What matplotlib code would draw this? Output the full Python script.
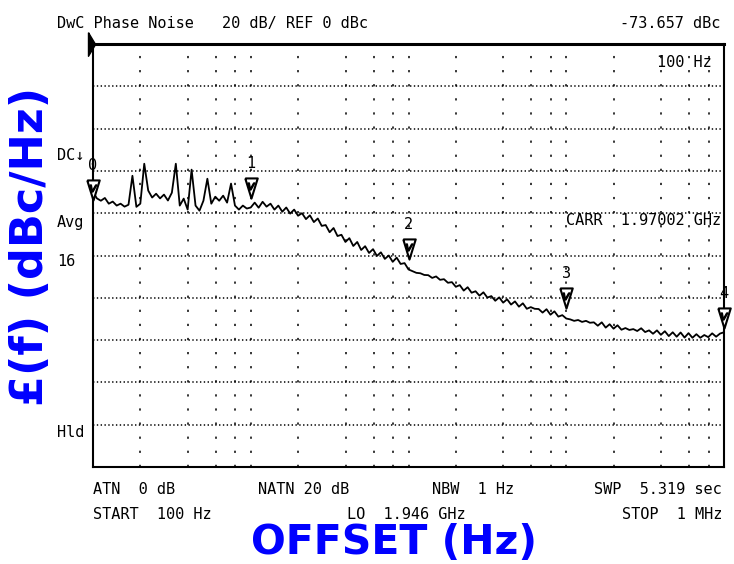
import matplotlib
matplotlib.use('Agg')
import matplotlib.pyplot as plt
from matplotlib.transforms import offset_copy, blended_transform_factory

plt.rcParams['lines.scale_dashes'] = False

# sweep grid of the analyzer: 40 points per decade, 100 Hz .. 1 MHz
sweep_mantissa = [1.000, 1.059, 1.122, 1.189, 1.259, 1.334, 1.413, 1.496, 1.585, 1.679,
                  1.778, 1.884, 1.995, 2.113, 2.239, 2.371, 2.512, 2.661, 2.818, 2.985,
                  3.162, 3.350, 3.548, 3.758, 3.981, 4.217, 4.467, 4.732, 5.012, 5.309,
                  5.623, 5.957, 6.310, 6.683, 7.079, 7.499, 7.943, 8.414, 8.913, 9.441]
decades = [1e2, 1e3, 1e4, 1e5]
stop_freq = 1e6

# phase noise trace, dBc/Hz
noise_100_1k = [-70.0, -73.0, -74.1, -72.8, -75.5, -74.5, -76.4, -75.5, -76.9, -76.0,
                -62.3, -77.0, -75.5, -56.6, -69.3, -72.6, -70.8, -73.0, -71.2, -74.0,
                -70.3, -56.6, -76.4, -73.1, -78.3, -59.4, -76.4, -78.8, -74.1, -63.7,
                -75.5, -72.2, -74.1, -71.7, -75.0, -66.0, -76.4, -78.3, -76.4, -77.8]
noise_1k_10k = [-77.3, -75.0, -77.4, -74.6, -76.9, -75.5, -78.3, -76.4, -79.3, -77.3,
                -80.2, -78.3, -81.2, -80.0, -82.8, -81.0, -84.2, -82.5, -86.0, -85.6,
                -89.0, -87.0, -90.8, -90.2, -93.6, -91.8, -95.5, -93.6, -97.4, -95.6,
                -98.8, -97.0, -100.2, -98.5, -101.6, -100.0, -103.0, -101.0, -104.0, -103.6]
noise_10k_100k = [-106.6, -107.4, -108.2, -108.4, -109.2, -109.3, -110.6, -109.9, -111.5, -111.2,
                  -112.9, -112.6, -114.8, -114.0, -116.6, -115.0, -117.6, -116.9, -119.0, -117.4,
                  -119.9, -119.2, -121.4, -119.8, -122.3, -120.7, -123.2, -121.7, -124.2, -122.6,
                  -125.2, -124.4, -125.2, -125.3, -127.0, -125.4, -128.0, -126.4, -128.9, -128.2]
noise_100k_1M = [-129.8, -130.2, -130.9, -130.5, -131.4, -130.9, -131.8, -131.6, -133.2, -131.6,
                 -134.1, -132.5, -134.6, -133.0, -135.1, -134.3, -135.2, -134.8, -135.7, -134.4,
                 -136.2, -135.4, -137.0, -135.4, -137.5, -135.8, -138.1, -136.3, -138.4, -136.4,
                 -138.8, -136.7, -138.9, -137.2, -138.9, -137.6, -138.6, -136.8, -138.4, -136.9,
                 -136.3]

# markers 0..4
marker_ids = ['0', '1', '2', '3', '4']
marker_freqs = [1e2, 1e3, 1e4, 1e5, 1e6]
marker_dbc = [-73.7, -72.6, -101.4, -124.5, -134.0]

grid_steps = [2, 4, 6, 8, 10]
ref_level = 0
db_per_div = 20
n_div = 10

freqs = [m * d for d in decades for m in sweep_mantissa] + [stop_freq]
trace = noise_100_1k + noise_1k_10k + noise_10k_100k + noise_100k_1M

W, H = 734, 564
fig = plt.figure(figsize=(W / 100, H / 100), dpi=100)
ax = fig.add_axes([93 / W, 97 / H, 631 / W, 423 / H])
ax.set_xscale('log')
ax.set_xlim(decades[0], stop_freq)
ax.set_ylim(ref_level - db_per_div * n_div, ref_level)
ax.set_xticks([])
ax.set_yticks([])
ax.minorticks_off()
for s in ax.spines.values():
    s.set_linewidth(1.5)
ax.spines['top'].set_linewidth(2.2)

# graticule
for k in range(1, n_div):
    ax.axhline(ref_level - k * db_per_div, color='black', lw=1.1,
               linestyle=(0, (1.0, 1.75)), zorder=1)
vgrid = [m * d for d in decades for m in grid_steps if m * d < stop_freq]
for f in vgrid:
    ax.axvline(f, color='black', lw=1.1, linestyle=(0, (1.6, 8.55)), zorder=1)

ax.plot(freqs, trace, color='black', lw=1.3, zorder=3)

# marker triangles with the index above
tri = [(-0.62, 1), (0.62, 1), (0, -1), (-0.62, 1)]
up_tri = offset_copy(ax.transData, fig=fig, x=0, y=7, units='points')
up_v = offset_copy(ax.transData, fig=fig, x=0, y=8.5, units='points')
up_num = offset_copy(ax.transData, fig=fig, x=0, y=24.5, units='points')
for mid, f, lv in zip(marker_ids, marker_freqs, marker_dbc):
    ax.plot([f], [lv], marker=tri, ms=14.5, mfc='white', mec='black', mew=1.5,
            transform=up_tri, clip_on=False, zorder=5)
    ax.plot([f], [lv], marker='$v$', ms=5, color='black',
            transform=up_v, clip_on=False, zorder=6)
    ax.text(f, lv, mid, transform=up_num, ha='center', va='center',
            family='DejaVu Sans Mono', fontsize=11, clip_on=False)

# reference level pointer
ref_tr = blended_transform_factory(ax.transAxes, ax.transData)
ax.plot([-0.008], [ref_level], marker=[(0, 1), (0, -1), (0.6, 0), (0, 1)], ms=17,
        color='black', transform=ref_tr, clip_on=False)

mono = dict(family='DejaVu Sans Mono', fontsize=11, color='black', va='baseline')


def put(x, y, s, ha='left'):
    fig.text(x / W, 1 - y / H, s, ha=ha, **mono)


put(57, 28, 'DwC Phase Noise')
put(222, 28, '20 dB/ REF 0 dBc')
put(720, 28, '-73.657 dBc', ha='right')
put(712, 67, '100 Hz', ha='right')
put(721, 225, 'CARR  1.97002 GHz', ha='right')
put(57, 160, 'DC\u2193')
put(57, 227, 'Avg')
put(57, 266, '16')
put(57, 437, 'Hld')
put(93, 494, 'ATN  0 dB')
put(258, 494, 'NATN 20 dB')
put(432, 494, 'NBW  1 Hz')
put(722, 494, 'SWP  5.319 sec', ha='right')
put(93, 519, 'START  100 Hz')
put(347, 519, 'LO  1.946 GHz')
put(722, 519, 'STOP  1 MHz', ha='right')

blue = '#0000ff'
fig.text(394 / W, 1 - 554 / H, 'OFFSET (Hz)', ha='center', va='baseline',
         family='DejaVu Sans', fontweight='bold', fontsize=29.5, color=blue)
fig.text(31 / W, 1 - 246 / H, '\u00a3(f) (dBc/Hz)', ha='center', va='center',
         rotation=90, family='DejaVu Sans', fontweight='bold', fontsize=32, color=blue)

fig.savefig('out.png', dpi=100, facecolor='white')
